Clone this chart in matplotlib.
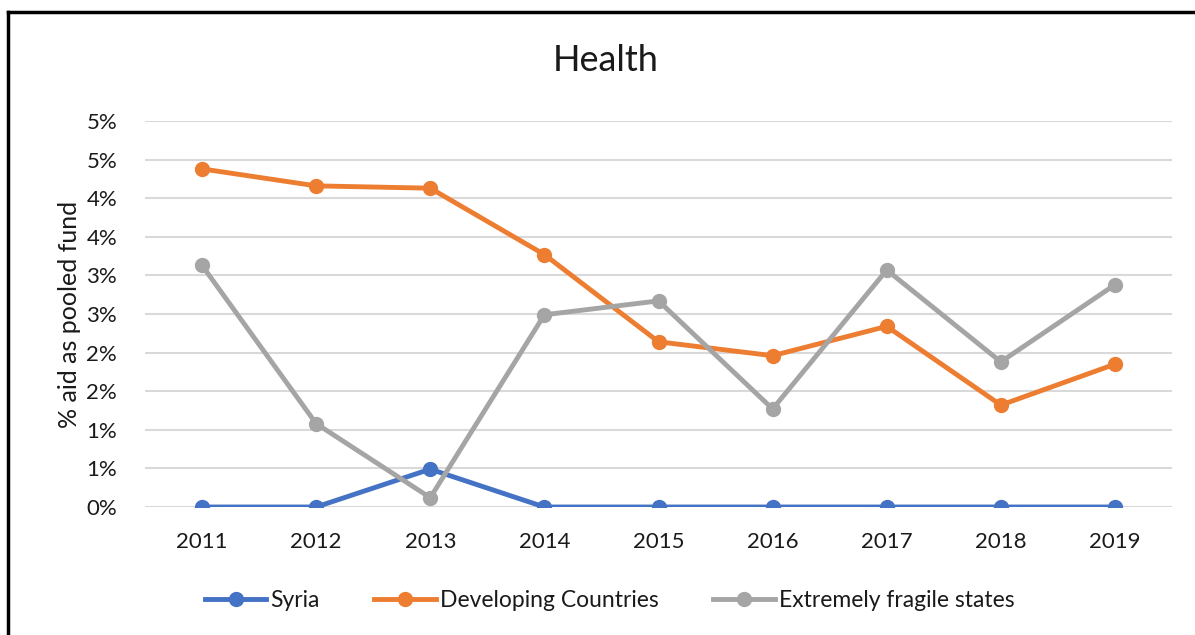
import numpy as np
import matplotlib.pyplot as plt
from matplotlib.ticker import FixedLocator

# Health: % aid delivered as pooled fund, 2011-2019
years = ['2011', '2012', '2013', '2014', '2015', '2016', '2017', '2018', '2019']
syria = [0.0, 0.0, 0.49, 0.0, 0.0, 0.0, 0.0, 0.0, 0.0]
developing = [4.38, 4.16, 4.13, 3.27, 2.14, 1.96, 2.34, 1.32, 1.85]
fragile = [3.13, 1.08, 0.12, 2.49, 2.67, 1.27, 3.07, 1.88, 2.88]

# Excel shows rounded whole-percent labels on half-percent steps
yticks = np.arange(0, 5.01, 0.5)
ytick_labels = ['0%', '1%', '1%', '2%', '2%', '3%', '3%', '4%', '4%', '5%', '5%']

plt.rcParams['font.family'] = ['Lato', 'DejaVu Sans']
txt = '#1a1a1a'

fig = plt.figure(figsize=(11.95, 6.35), dpi=100)
ax = fig.add_axes([0.1213, 0.2016, 0.8595, 0.6078])

x = np.arange(len(years))
ax.plot(x, syria, color='#4472C4', lw=3.5, marker='o', ms=10, label='Syria', zorder=3)
ax.plot(x, developing, color='#ED7D31', lw=3.5, marker='o', ms=10, label='Developing Countries', zorder=3)
ax.plot(x, fragile, color='#A5A5A5', lw=3.5, marker='o', ms=10, label='Extremely fragile states', zorder=3)

ax.set_xlim(-0.5, len(years) - 0.5)
ax.set_ylim(0, 5.0)
ax.set_xticks(x)
ax.set_xticklabels(years, fontsize=16, color=txt)
ax.yaxis.set_major_locator(FixedLocator(yticks))
ax.set_yticklabels(ytick_labels, fontsize=16, color=txt)
ax.tick_params(length=0)
ax.tick_params(axis='y', pad=20)
ax.tick_params(axis='x', pad=18)
ax.grid(axis='y', color='#D9D9D9', lw=1.5)
ax.set_axisbelow(True)
for s in ax.spines.values():
    s.set_visible(False)

ax.set_ylabel('% aid as pooled fund', fontsize=18, labelpad=4, color=txt)
fig.text(0.507, 0.905, 'Health', ha='center', va='center', fontsize=26, color=txt)

fig.legend(loc='center', bbox_to_anchor=(0.51, 0.055), ncol=3, frameon=False,
           fontsize=16.5, handlelength=2.7, handletextpad=0.15, columnspacing=2.4,
           labelcolor=txt)

# black frame on the left and top edges, as in the screenshot
fig.add_artist(plt.Line2D([0.007, 0.007], [0, 0.981], color='black', lw=2.5, transform=fig.transFigure))
fig.add_artist(plt.Line2D([0.007, 1.0], [0.981, 0.981], color='black', lw=2.5, transform=fig.transFigure))

fig.savefig('out.png', dpi=100)
